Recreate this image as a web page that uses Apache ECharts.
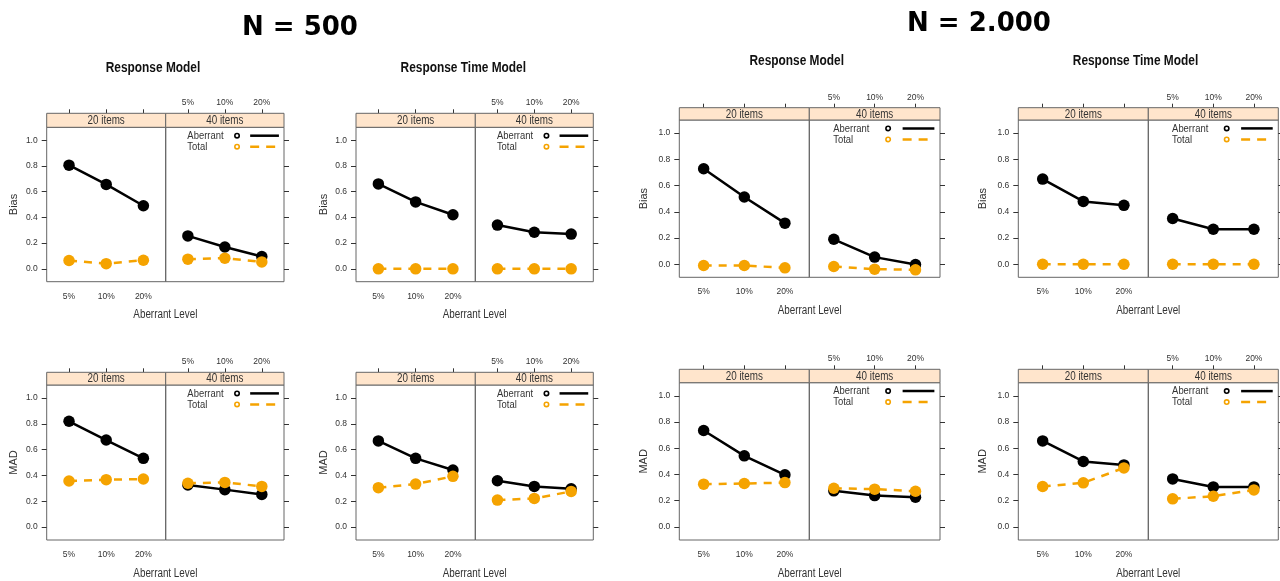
<!DOCTYPE html>
<html><head><meta charset="utf-8">
<script src="https://cdn.jsdelivr.net/npm/echarts@6/dist/echarts.min.js"></script>
<style>html,body{margin:0;padding:0;background:#fff}#c{width:1280px;height:581px}</style>
</head><body><div id="c"></div>
<script>
// ---- data ----
const levels = ['5%', '10%', '20%'];
const itemGroups = ['20 items', '40 items'];
const seriesNames = ['Aberrant', 'Total'];
const yTicks = [0, 0.2, 0.4, 0.6, 0.8, 1.0];
const xLabel = 'Aberrant Level';
const headings = ['N = 500', 'N = 2.000'];
// each array: [20 items values, 40 items values]
const n500RespBiasAberrant = [[0.806, 0.656, 0.490], [0.256, 0.170, 0.096]];
const n500RespBiasTotal    = [[0.065, 0.040, 0.067], [0.075, 0.083, 0.054]];
const n500TimeBiasAberrant = [[0.660, 0.520, 0.420], [0.340, 0.284, 0.270]];
const n500TimeBiasTotal    = [[0.000, 0.000, 0.000], [0.000, 0.000, 0.000]];
const n500RespMadAberrant  = [[0.819, 0.674, 0.532], [0.326, 0.290, 0.253]];
const n500RespMadTotal     = [[0.357, 0.367, 0.372], [0.339, 0.346, 0.315]];
const n500TimeMadAberrant  = [[0.667, 0.532, 0.442], [0.359, 0.315, 0.297]];
const n500TimeMadTotal     = [[0.305, 0.333, 0.393], [0.209, 0.222, 0.276]];
const n2000RespBiasAberrant = [[0.728, 0.513, 0.313], [0.190, 0.054, -0.003]];
const n2000RespBiasTotal    = [[-0.010, -0.010, -0.028], [-0.018, -0.038, -0.043]];
const n2000TimeBiasAberrant = [[0.649, 0.479, 0.449], [0.349, 0.267, 0.267]];
const n2000TimeBiasTotal    = [[0.000, 0.000, 0.000], [0.000, 0.000, 0.000]];
const n2000RespMadAberrant  = [[0.735, 0.542, 0.397], [0.275, 0.239, 0.226]];
const n2000RespMadTotal     = [[0.326, 0.331, 0.338], [0.295, 0.288, 0.272]];
const n2000TimeMadAberrant  = [[0.656, 0.499, 0.473], [0.366, 0.305, 0.305]];
const n2000TimeMadTotal     = [[0.308, 0.336, 0.450], [0.214, 0.234, 0.282]];

// ---- layout ----
const FF = '"Liberation Sans", Arial, sans-serif';
const SX = 0.82; // horizontal squeeze of the reference's text
const BLACK = '#000000', ORANGE = '#f5a300', STRIP = '#ffe5cc', BORDER = '#666666', TXT = '#333333';
const panels = [
  {L:46.7, D:165.7, R:284, sT:113.3, sB:127.3, pB:281.7, yName:'Bias', gap:27, title:'Response Model', tx:153, ty:68, ab:n500RespBiasAberrant, tot:n500RespBiasTotal},
  {L:356, D:475.3, R:593.3, sT:113.3, sB:127.3, pB:281.7, yName:'Bias', gap:27, title:'Response Time Model', tx:463.3, ty:68, ab:n500TimeBiasAberrant, tot:n500TimeBiasTotal},
  {L:679.3, D:809.3, R:940, sT:107.7, sB:120, pB:277.3, yName:'Bias', gap:30, title:'Response Model', tx:796.7, ty:60.7, ab:n2000RespBiasAberrant, tot:n2000RespBiasTotal},
  {L:1018.3, D:1148.3, R:1278.3, sT:107.7, sB:120, pB:277.3, yName:'Bias', gap:30, title:'Response Time Model', tx:1135.5, ty:60.7, ab:n2000TimeBiasAberrant, tot:n2000TimeBiasTotal},
  {L:46.7, D:165.7, R:284, sT:372.3, sB:385, pB:540, yName:'MAD', gap:27, ab:n500RespMadAberrant, tot:n500RespMadTotal},
  {L:356, D:475.3, R:593.3, sT:372.3, sB:385, pB:540, yName:'MAD', gap:27, ab:n500TimeMadAberrant, tot:n500TimeMadTotal},
  {L:679.3, D:809.3, R:940, sT:369.3, sB:382.7, pB:540, yName:'MAD', gap:30, ab:n2000RespMadAberrant, tot:n2000RespMadTotal},
  {L:1018.3, D:1148.3, R:1278.3, sT:369.3, sB:382.7, pB:540, yName:'MAD', gap:30, ab:n2000TimeMadAberrant, tot:n2000TimeMadTotal}
];

const grids = [], xAxes = [], yAxes = [], series = [], graphics = [];
const xVals = levels.map((l, i) => i + 1);
const fmtX = v => levels[Math.round(v) - 1] || '';

headings.forEach((h, i) => {
  graphics.push({type:'text', x: i === 0 ? 300 : 979, y: i === 0 ? 28 : 24, z:10,
    style:{text:h, font:'bold 26px "DejaVu Sans", sans-serif', fill:'#000', align:'center', verticalAlign:'middle'}});
});

panels.forEach(p => {
  if (p.title) {
    graphics.push({type:'text', x:p.tx, y:p.ty, z:10, scaleX:0.85,
      style:{text:p.title, font:'bold 14px ' + FF, fill:'#111', align:'center', verticalAlign:'middle'}});
  }
  graphics.push({type:'text', x:(p.L + p.R) / 2, y:p.pB + 33.4, z:10, scaleX:SX,
    style:{text:xLabel, font:'12px ' + FF, fill:TXT, align:'center', verticalAlign:'middle'}});
  [0, 1].forEach(k => {
    const left = k === 0 ? p.L : p.D, right = k === 0 ? p.D : p.R;
    const gi = grids.length;
    grids.push({left:left, top:p.sB, width:right - left, height:p.pB - p.sB, show:true,
      borderColor:BORDER, borderWidth:1, backgroundColor:'transparent', containLabel:false, outerBoundsMode:'none'});
    const bx = xAxes.length;
    xAxes.push({type:'value', gridIndex:gi, position:'bottom', min:0.4, max:3.6,
      axisLine:{show:false}, splitLine:{show:false}, axisTick:{show:false},
      axisLabel:{show:k === 0, customValues:xVals, formatter:fmtX, margin:10, fontSize:8.5, color:TXT, fontFamily:FF}});
    xAxes.push({type:'value', gridIndex:gi, position:'top', offset:p.sB - p.sT, min:0.4, max:3.6,
      axisLine:{show:false}, splitLine:{show:false},
      axisTick:{show:true, customValues:xVals, length:4, lineStyle:{color:TXT, width:1}},
      axisLabel:{show:k === 1, customValues:xVals, formatter:fmtX, margin:6, fontSize:8.5, color:TXT, fontFamily:FF}});
    yAxes.push({type:'value', gridIndex:gi, position:k === 0 ? 'left' : 'right', min:-0.1, max:1.1,
      axisLine:{show:false}, splitLine:{show:false},
      axisTick:{show:true, customValues:yTicks, length:5, lineStyle:{color:TXT, width:1}},
      axisLabel:{show:k === 0, customValues:yTicks, formatter:v => v.toFixed(1), margin:9, fontSize:8.5, color:TXT, fontFamily:FF},
      name:k === 0 ? p.yName : '', nameLocation:'middle', nameGap:p.gap,
      nameTextStyle:{fontSize:11, color:TXT, fontFamily:FF}});
    series.push({type:'line', name:seriesNames[0], xAxisIndex:bx, yAxisIndex:gi,
      data:xVals.map((x, i) => [x, p.ab[k][i]]), symbol:'circle', symbolSize:11.5, showSymbol:true,
      lineStyle:{color:BLACK, width:2.5}, itemStyle:{color:BLACK}, z:2, silent:true});
    series.push({type:'line', name:seriesNames[1], xAxisIndex:bx, yAxisIndex:gi,
      data:xVals.map((x, i) => [x, p.tot[k][i]]), symbol:'circle', symbolSize:11.5, showSymbol:true,
      lineStyle:{color:ORANGE, width:2.5, type:[8, 7]}, itemStyle:{color:ORANGE}, z:3, silent:true});
    // strip
    graphics.push({type:'rect', z:5, shape:{x:left, y:p.sT, width:right - left, height:p.sB - p.sT},
      style:{fill:STRIP, stroke:BORDER, lineWidth:1}});
    graphics.push({type:'text', z:6, x:(left + right) / 2, y:(p.sT + p.sB) / 2 + 0.5, scaleX:SX,
      style:{text:itemGroups[k], font:'12px ' + FF, fill:TXT, align:'center', verticalAlign:'middle'}});
  });
  // legend in the 40 items panel
  const w = p.R - p.D;
  seriesNames.forEach((nm, j) => {
    const yy = p.sB + 8.4 + j * 11;
    const col = j === 0 ? BLACK : ORANGE;
    graphics.push({type:'text', z:6, x:p.D + 0.183 * w, y:yy, scaleX:SX,
      style:{text:nm, font:'11.5px ' + FF, fill:TXT, align:'left', verticalAlign:'middle'}});
    graphics.push({type:'circle', z:6, shape:{cx:p.R - 0.397 * w, cy:yy, r:2.2},
      style:{fill:'#fff', stroke:col, lineWidth:1.6}});
    graphics.push({type:'line', z:6, shape:{x1:p.R - 0.286 * w, y1:yy, x2:p.R - 0.043 * w, y2:yy},
      style:{stroke:col, lineWidth:2.5, lineDash:j === 0 ? null : [9, 7]}});
  });
});

const chart = echarts.init(document.getElementById('c'), null, {renderer:'canvas'});
chart.setOption({
  animation:false,
  backgroundColor:'#ffffff',
  grid:grids, xAxis:xAxes, yAxis:yAxes, series:series, graphic:graphics
});
</script></body></html>
